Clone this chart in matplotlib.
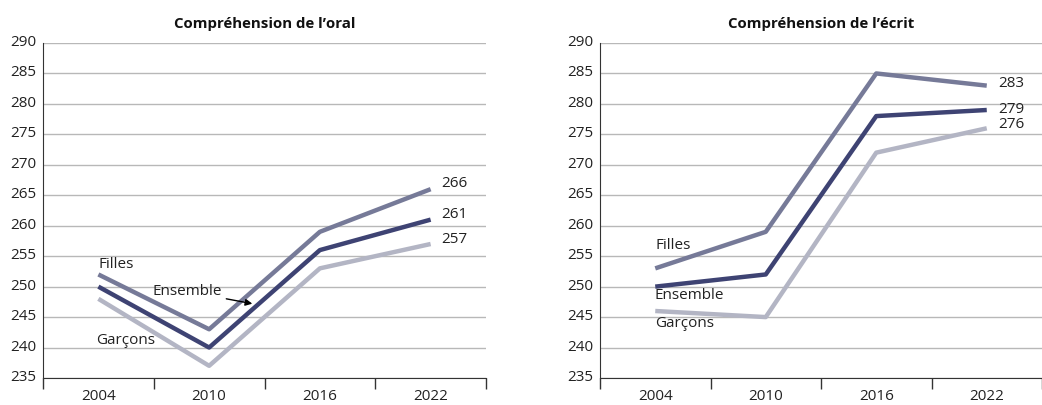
import matplotlib
matplotlib.use("Agg")
import matplotlib.pyplot as plt
import matplotlib.transforms as mtransforms
import numpy as np

plt.rcParams['font.family'] = ['Open Sans', 'DejaVu Sans']

years = ["2004", "2010", "2016", "2022"]
oral_filles = [252, 243, 259, 266]
oral_ensemble = [250, 240, 256, 261]
oral_garcons = [248, 237, 253, 257]
ecrit_filles = [253, 259, 285, 283]
ecrit_ensemble = [250, 252, 278, 279]
ecrit_garcons = [246, 245, 272, 276]
yticks = [235, 240, 245, 250, 255, 260, 265, 270, 275, 280, 285, 290]

c_f = "#767a98"
c_e = "#3e4373"
c_g = "#b3b5c4"

fig = plt.figure(figsize=(10.42, 4.05), dpi=100)
ax1 = fig.add_axes([43/1042, 1-378/405, 443/1042, 335/405])
ax2 = fig.add_axes([600/1042, 1-378/405, 442/1042, 335/405])

xs = np.arange(len(years)) + 0.5
tfs = 11

def style(ax, title):
    ax.set_xlim(0, 4)
    ax.set_ylim(235, 290)
    ax.set_yticks(yticks)
    ax.set_yticklabels([str(v) for v in yticks], fontsize=tfs, color="#222222")
    ax.tick_params(axis='y', length=0, pad=5)
    off = mtransforms.ScaledTranslation(0, 2.5/100, fig.dpi_scale_trans)
    for lab in ax.get_yticklabels():
        lab.set_transform(lab.get_transform() + off)
    ax.set_xticks([0, 1, 2, 3, 4])
    ax.set_xticklabels([])
    ax.set_xticks(xs, minor=True)
    ax.set_xticklabels(years, minor=True, fontsize=tfs, color="#222222")
    ax.tick_params(axis='x', which='major', direction='out', length=8, width=1, color="#333333")
    ax.tick_params(axis='x', which='minor', length=0, pad=8)
    ax.grid(axis='y', color="#b8b8b8", linewidth=1)
    ax.set_axisbelow(True)
    for s in ['top', 'right']:
        ax.spines[s].set_visible(False)
    ax.spines['left'].set_color("#333333")
    ax.spines['bottom'].set_color("#333333")
    ax.set_title(title, fontsize=10.8, fontweight='bold', pad=11, color="#111111")

lw = 3.2
for ax, f, e, g in [(ax1, oral_filles, oral_ensemble, oral_garcons),
                    (ax2, ecrit_filles, ecrit_ensemble, ecrit_garcons)]:
    ax.plot(xs, g, color=c_g, lw=lw, solid_capstyle='butt')
    ax.plot(xs, f, color=c_f, lw=lw, solid_capstyle='butt')
    ax.plot(xs, e, color=c_e, lw=lw, solid_capstyle='butt')

style(ax1, "Compréhension de l’oral")
style(ax2, "Compréhension de l’écrit")

fs = 11
# left chart labels
ax1.text(0.5, 253.6, "Filles", fontsize=fs, va='center', ha='left', color="#222222")
ax1.text(0.48, 241.1, "Garçons", fontsize=fs, va='center', ha='left', color="#222222")
ax1.annotate("Ensemble", xy=(1.89, 247.2), xytext=(0.99, 249.2), fontsize=fs,
             va='center', ha='left', color="#222222",
             arrowprops=dict(arrowstyle='-|>', color='black', lw=1, mutation_scale=10,
                             shrinkA=1, shrinkB=0))
ax1.text(3.6, oral_filles[-1] + 0.9, str(oral_filles[-1]), fontsize=fs, va='center', ha='left', color="#222222")
ax1.text(3.6, oral_ensemble[-1] + 0.8, str(oral_ensemble[-1]), fontsize=fs, va='center', ha='left', color="#222222")
ax1.text(3.6, oral_garcons[-1] + 0.7, str(oral_garcons[-1]), fontsize=fs, va='center', ha='left', color="#222222")

# right chart labels
ax2.text(0.5, 256.7, "Filles", fontsize=fs, va='center', ha='left', color="#222222")
ax2.text(0.49, 248.5, "Ensemble", fontsize=fs, va='center', ha='left', color="#222222")
ax2.text(0.5, 244.0, "Garçons", fontsize=fs, va='center', ha='left', color="#222222")
ax2.text(3.6, ecrit_filles[-1] + 0.4, str(ecrit_filles[-1]), fontsize=fs, va='center', ha='left', color="#222222")
ax2.text(3.6, ecrit_ensemble[-1] + 0.1, str(ecrit_ensemble[-1]), fontsize=fs, va='center', ha='left', color="#222222")
ax2.text(3.6, ecrit_garcons[-1] + 0.6, str(ecrit_garcons[-1]), fontsize=fs, va='center', ha='left', color="#222222")

fig.savefig("out.png", dpi=100)
